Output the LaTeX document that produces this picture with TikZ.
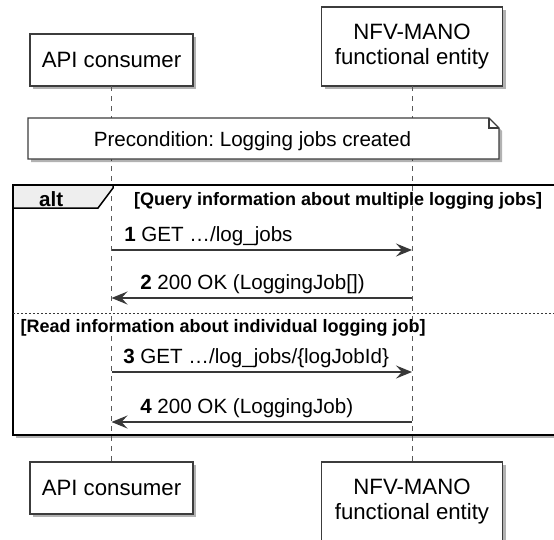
\documentclass[tikz,border=0pt]{standalone}
\usepackage{fontspec}
\setmainfont{Liberation Sans}
\frenchspacing
\usepackage{tikz}
\usetikzlibrary{arrows.meta,shapes,positioning,shadows}
\definecolor{boxline}{HTML}{3C3C3C}
\definecolor{msgline}{HTML}{383838}
\definecolor{lifegray}{HTML}{5A5A5A}
\definecolor{tabfill}{HTML}{EEEEEE}
\tikzset{
  every picture/.style = {
    x = 1pt,
    y = -1pt,
    >={Stealth[length=16pt,width=13pt,inset=6pt]},
  }
  ,
  shade-box/.style = {
    drop shadow = {shadow xshift=3pt, shadow yshift=-3pt, opacity=0.3, fill=black}
  }
  ,
  participant/.style = {
    rectangle,
    draw = boxline,
    line width = 1.5pt,
    fill = white,
    shade-box,
    align = center,
    outer sep = 0pt,
    font = \fontsize{22.2}{25}\selectfont,
    minimum height = 52pt
  }
  ,
  altframe/.style = {
    rectangle,
    draw = black,
    line width = 2.5pt,
    fill = white,
    shade-box,
    outer sep = 0pt,
    inner sep = 0pt,
    minimum width = 547pt,
    minimum height = 250pt
  }
  ,
  alttab/.style = {draw = black, line width = 1.5pt, fill = tabfill}
  ,
  lifeline/.style = {draw = lifegray, line width = 1pt, dash pattern = on 5pt off 5pt}
  ,
  divider/.style = {draw = msgline, line width = 1pt, dash pattern = on 2pt off 2pt}
  ,
  noteshape/.style = {draw = boxline, line width = 1.2pt, fill = white}
  ,
  message/.style = {->, draw = msgline, line width = 1.5pt}
  , % labels of messages
  label-msg/.style = {
    font = \fontsize{20.6}{24}\selectfont,
    inner sep = 0pt,
    anchor = base west,
    yshift = 9pt
  }
  , % labels of the alt block
  label-guard/.style = {
    font = \bfseries\fontsize{18}{21}\selectfont,
    inner sep = 0pt,
    anchor = base west
  }
  ,
  label-alt/.style = {
    font = \bfseries\fontsize{20.6}{24}\selectfont,
    inner sep = 0pt,
    anchor = base west
  }
  ,
  label-note/.style = {
    font = \fontsize{20.6}{24}\selectfont,
    inner sep = 0pt,
    anchor = base
  }
}

\begin{document}
\begin{tikzpicture}
\useasboundingbox (0,0) rectangle (554,539);
\clip (0,0) rectangle (554,539);

\node [altframe, anchor = north west] (frame) at (13,185) {};

\node [participant, anchor = south, minimum width = 163pt] (apiTop) at (111.5,86) {API consumer};
\node [participant, anchor = south, minimum width = 181pt, minimum height = 79pt] (nfvTop) at (412,86) {NFV-MANO\\functional entity};
\node [participant, anchor = north, minimum width = 163pt] (apiBot) at (111.5,462) {API consumer};
\node [participant, anchor = north, minimum width = 181pt, minimum height = 79pt] (nfvBot) at (412,462) {NFV-MANO\\functional entity};

\draw [lifeline] (apiTop) -- (apiBot);
\draw [lifeline] (nfvTop) -- (nfvBot);

% precondition note
\filldraw [noteshape, shade-box] (28,118) -- (489,118) -- (499,128) -- (499,159) -- (28,159) -- cycle;
\draw [noteshape, fill = none] (489,118) |- (499,128);
\node [label-note] (pre) at (252.5,146.5) {Precondition: Logging jobs created};

% alt block
\filldraw [alttab] (frame.north west) -- ++(100,0) -- ++(0,3) -- ++(-15,20) -- ++(-85,0) -- cycle;
\node [label-alt] (altLabel) at (39,206) {alt};
\node [label-guard] (guardQuery) at (134,205) {[Query information about multiple logging jobs]};
\draw [divider] (frame.west |- 0,313) -- (frame.east |- 0,313);
\node [label-guard] (guardRead) at (20.5,332) {[Read information about individual logging job]};

\foreach \i/\y in {1/250, 2/298, 3/372, 4/422} {
  \coordinate (a\i) at (apiTop |- 0,\y);
  \coordinate (n\i) at (nfvTop |- 0,\y);
}

\path [every edge/.append style = message]
  (a1) edge node [label-msg, at start, xshift = 12pt] {\textbf{1} GET \ldots/log\_jobs} (n1)
  (n2) edge node [label-msg, at end, xshift = 28pt] {\textbf{2} 200 OK (LoggingJob[])} (a2)
  (a3) edge node [label-msg, at start, xshift = 11pt] {\textbf{3} GET \ldots/log\_jobs/\{logJobId\}} (n3)
  (n4) edge node [label-msg, at end, xshift = 28pt] {\textbf{4} 200 OK (LoggingJob)} (a4);
\end{tikzpicture}
\end{document}
